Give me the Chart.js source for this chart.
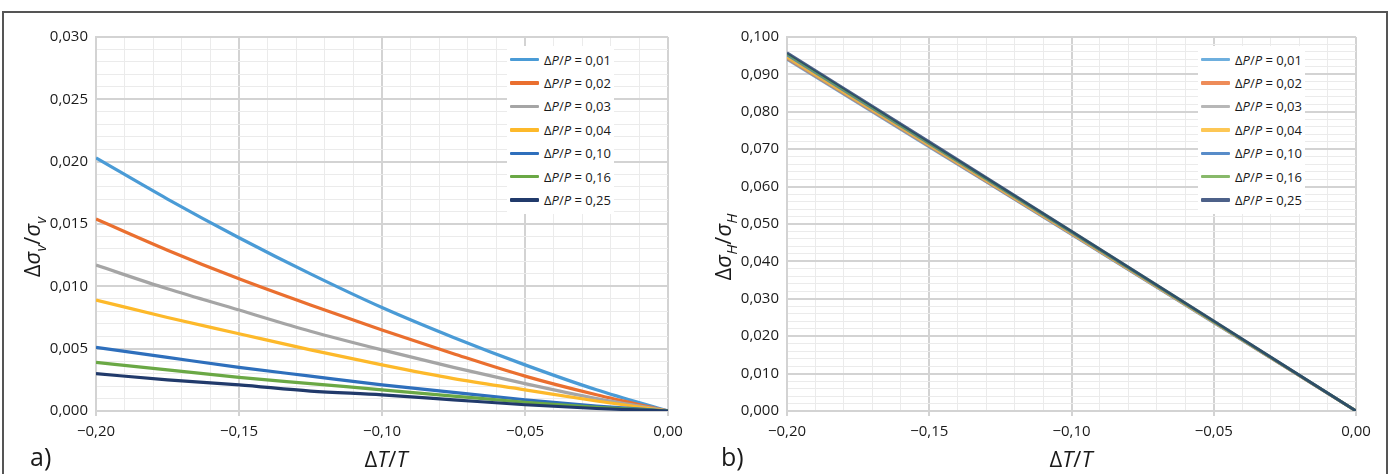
<!DOCTYPE html>
<html>
<head>
<meta charset="utf-8">
<script src="https://cdn.jsdelivr.net/npm/chart.js@4.4.1/dist/chart.umd.min.js"></script>
<style>
  html, body { margin: 0; padding: 0; background: #fff; }
  body { width: 1397px; height: 474px; position: relative; overflow: hidden; font-family: "Open Sans", sans-serif; color: #1a1a1a; }
  .frame { position: absolute; left: 2px; top: 11px; width: 1386px; height: 500px; border: 2px solid #555; box-sizing: border-box; }
  canvas { position: absolute; top: 0; }
  #chartA { left: 0; }
  #chartB { left: 698px; }
  .legend { position: absolute; top: 46px; background: #fff; padding: 2px 3px; }
  .legend .row { height: 23.4px; display: flex; align-items: center; font-size: 13px; white-space: nowrap; }
  .legend .swatch { width: 29px; height: 3.5px; margin-right: 5px; border-radius: 1px; }
  .xtitle { position: absolute; top: 443px; font-size: 22px; transform: translateX(-50%); white-space: nowrap; }
  .ytitle { position: absolute; font-size: 22px; white-space: nowrap; transform: translate(-50%, -50%) rotate(-90deg); }
  .ytitle sub { font-size: 15px; }
  .tag { position: absolute; top: 439px; font-size: 25px; }
</style>
</head>
<body>
<div class="frame"></div>
<canvas id="chartA" width="698" height="474"></canvas>
<canvas id="chartB" width="699" height="474"></canvas>
<div class="legend" id="legendA" style="left:507px"></div>
<div class="legend" id="legendB" style="left:1198px"></div>
<div class="xtitle" style="left:386px">Δ<i>T</i>/<i>T</i></div>
<div class="xtitle" style="left:1071px">Δ<i>T</i>/<i>T</i></div>
<div class="ytitle" style="left:33px; top:247px">Δ<i>σ</i><sub><i>v</i></sub>/<i>σ</i><sub><i>v</i></sub></div>
<div class="ytitle" style="left:724px; top:247px">Δ<i>σ</i><sub><i>H</i></sub>/<i>σ</i><sub><i>H</i></sub></div>
<div class="tag" style="left:30px">a)</div>
<div class="tag" style="left:721px">b)</div>
<script>
// --- data ---
const pressureRatios = ['0,01', '0,02', '0,03', '0,04', '0,10', '0,16', '0,25'];
const lineColors = ['#4a9bd6', '#ea6f2f', '#a5a5a5', '#fdb92a', '#2e6fbc', '#6aa845', '#213a6b'];

// a) vertical stress change
const tempStepsA = [-0.200, -0.175, -0.150, -0.125, -0.100, -0.075, -0.050, -0.025, 0.000];
const sigmaV_001 = [0.0203, 0.0170, 0.0139, 0.0110, 0.0083, 0.0059, 0.0037, 0.0017, 0];
const sigmaV_002 = [0.0154, 0.0129, 0.0106, 0.0085, 0.0065, 0.0046, 0.0028, 0.0013, 0];
const sigmaV_003 = [0.0117, 0.0098, 0.0081, 0.0064, 0.0049, 0.0035, 0.0022, 0.0010, 0];
const sigmaV_004 = [0.0089, 0.0075, 0.0062, 0.0049, 0.0037, 0.0026, 0.0017, 0.0008, 0];
const sigmaV_010 = [0.0051, 0.0043, 0.0035, 0.0028, 0.0021, 0.0015, 0.0009, 0.0004, 0];
const sigmaV_016 = [0.0039, 0.0033, 0.0027, 0.0022, 0.0017, 0.0012, 0.0007, 0.0003, 0];
const sigmaV_025 = [0.0030, 0.0025, 0.0021, 0.0016, 0.0013, 0.0009, 0.0005, 0.0002, 0];

// b) horizontal stress change
const tempStepsB = [-0.20, -0.15, -0.10, -0.05, 0.00];
const sigmaH_001 = [0.0940, 0.0706, 0.0472, 0.0236, 0];
const sigmaH_002 = [0.0942, 0.0708, 0.0473, 0.0237, 0];
const sigmaH_003 = [0.0944, 0.0709, 0.0474, 0.0237, 0];
const sigmaH_004 = [0.0946, 0.0711, 0.0475, 0.0238, 0];
const sigmaH_010 = [0.0952, 0.0715, 0.0478, 0.0239, 0];
const sigmaH_016 = [0.0955, 0.0717, 0.0480, 0.0240, 0];
const sigmaH_025 = [0.0958, 0.0720, 0.0481, 0.0241, 0];

const seriesA = [sigmaV_001, sigmaV_002, sigmaV_003, sigmaV_004, sigmaV_010, sigmaV_016, sigmaV_025];
const seriesB = [sigmaH_001, sigmaH_002, sigmaH_003, sigmaH_004, sigmaH_010, sigmaH_016, sigmaH_025];

const tickFont = { family: 'Open Sans', size: 15 };
const fmt = (v, d) => (v < -1e-9 ? '\u2212' : '') + Math.abs(v).toFixed(d).replace('.', ',');

function hexA(hex, a) {
    const n = parseInt(hex.slice(1), 16);
    return `rgba(${n >> 16}, ${(n >> 8) & 255}, ${n & 255}, ${a})`;
}

function makeChart(id, xs, series, opts) {
    const datasets = series.map((ys, i) => ({
        label: 'ΔP/P = ' + pressureRatios[i],
        data: ys.map((y, k) => ({ x: xs[k], y: y })),
        borderColor: hexA(lineColors[i], opts.alpha),
        borderWidth: opts.lineWidth,
        pointRadius: 0,
        cubicInterpolationMode: 'monotone',
        order: series.length - i
    }));
    const xMajor = v => Math.round(Math.abs(v) * 1000) % 50 === 0;
    const yMajor = v => Math.round(v / opts.yMinor) % opts.yPer === 0;
    return new Chart(document.getElementById(id), {
        type: 'line',
        data: { datasets },
        options: {
            responsive: false,
            animation: false,
            layout: { padding: { top: 37, right: opts.padRight, bottom: 23, left: 0 } },
            plugins: { legend: { display: false }, tooltip: { enabled: false } },
            scales: {
                x: {
                    type: 'linear', min: -0.2, max: 0,
                    afterFit: s => { s.height = 40; },
                    ticks: {
                        stepSize: 0.01, autoSkip: false, maxRotation: 0, padding: 7,
                        font: tickFont, color: '#1a1a1a',
                        callback: v => xMajor(v) ? fmt(v, 2) : ''
                    },
                    grid: {
                        color: c => xMajor(c.tick.value) ? '#d3d3d3' : '#ebebeb',
                        lineWidth: c => xMajor(c.tick.value) ? 2 : 1,
                        tickColor: c => xMajor(c.tick.value) ? '#d3d3d3' : 'rgba(0,0,0,0)',
                        tickLength: 5
                    },
                    border: { color: '#d3d3d3', width: 2 }
                },
                y: {
                    min: 0, max: opts.yMax,
                    afterFit: s => { s.width = opts.yWidth; },
                    ticks: {
                        stepSize: opts.yMinor, autoSkip: false, padding: 8,
                        font: tickFont, color: '#1a1a1a',
                        callback: v => yMajor(v) ? fmt(v, 3) : ''
                    },
                    grid: {
                        color: c => yMajor(c.tick.value) ? '#d3d3d3' : '#ebebeb',
                        lineWidth: c => yMajor(c.tick.value) ? 2 : 1,
                        drawTicks: false
                    },
                    border: { color: '#d3d3d3', width: 2 }
                }
            }
        }
    });
}

function fillLegend(id, chart, alpha) {
    const box = document.getElementById(id);
    chart.data.datasets.forEach((ds, i) => {
        const row = document.createElement('div');
        row.className = 'row';
        row.innerHTML = `<span class="swatch" style="background:${hexA(lineColors[i], alpha)}"></span>` +
            `Δ<i>P</i>/<i>P</i>&nbsp;= ${pressureRatios[i]}`;
        box.appendChild(row);
    });
}

const chartA = makeChart('chartA', tempStepsA, seriesA,
    { alpha: 1, lineWidth: 3.2, yMax: 0.03, yMinor: 0.001, yPer: 5, yWidth: 96, padRight: 30 });
const chartB = makeChart('chartB', tempStepsB, seriesB,
    { alpha: 0.8, lineWidth: 2.8, yMax: 0.1, yMinor: 0.002, yPer: 5, yWidth: 89, padRight: 41 });

fillLegend('legendA', chartA, 1);
fillLegend('legendB', chartB, 0.8);
</script>
</body>
</html>
